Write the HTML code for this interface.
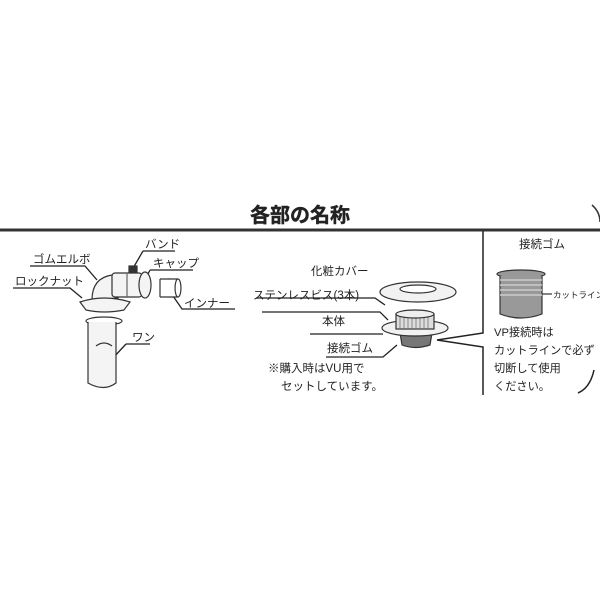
<!DOCTYPE html>
<html><head><meta charset="utf-8"><style>
body{margin:0;background:#fff;}
svg text{font-family:"Liberation Sans","Noto Sans CJK JP",sans-serif;fill:#222;}
</style></head><body>
<svg width="600" height="600" viewBox="0 0 600 600" xmlns="http://www.w3.org/2000/svg">
<text x="300" y="222" font-size="20" font-weight="bold" text-anchor="middle" stroke="#222" stroke-width="0.4">各部の名称</text>
<line x1="0" y1="230" x2="600" y2="230" stroke="#333" stroke-width="3"/>
<path d="M592 205 Q600 212 600 222" fill="none" stroke="#333" stroke-width="1.5"/>
<g stroke="#222" stroke-width="1.5" fill="none">
<path d="M483 231 V333 L437 340 L483 347 V395"/>
<path d="M578 393 Q590 388 594 370"/>
</g>
<g font-size="11.5">
<text x="33" y="263">ゴムエルボ</text>
<text x="15" y="285">ロックナット</text>
<text x="145" y="248">バンド</text>
<text x="153" y="267">キャップ</text>
<text x="184" y="307">インナー</text>
<text x="132" y="341">ワン</text>
</g>
<g stroke="#222" stroke-width="1.3" fill="none">
<path d="M30 266 H85 L97 280"/>
<path d="M13 288 H70 L82 298"/>
<path d="M143 251 H175 M143 251 L132 270"/>
<path d="M150 270 H193 M150 270 L145 280"/>
<path d="M173 296 L182 309 H235"/>
<path d="M126 344 H150 M126 344 L113 358"/>
<path d="M256 298 H375 L385 305"/>
<path d="M262 312 H380 L388 320"/>
<path d="M310 334 H383"/>
<path d="M326 357 H383 L397 345"/>
</g>
<g stroke="#333" stroke-width="1.2" fill="#f4f4f4">
<path d="M92 300 Q92 278 112 275 L118 275 L118 298 Z"/>
<rect x="112" y="273" width="30" height="24" rx="3"/>
<path d="M127 273 V297" stroke="#666"/>
<ellipse cx="145" cy="285" rx="6" ry="13"/>
<rect x="129" y="266" width="8" height="6" fill="#333"/>
<path d="M80 302 Q104 294 130 302 L124 310 Q104 314 86 310 Z"/>
<ellipse cx="169" cy="288" rx="9" ry="9" fill="#fff"/>
<rect x="160" y="279" width="18" height="18" fill="#fff" stroke="none"/>
<path d="M160 279 V297 M160 279 H178 M160 297 H178"/>
<ellipse cx="178" cy="288" rx="3" ry="9" fill="#fff"/>
<ellipse cx="104" cy="321" rx="18" ry="4" fill="#fff"/>
<path d="M88 322 V383 Q104 392 116 383 V322" fill="#f4f4f4"/>
<path d="M96 346 Q104 340 112 346" fill="none"/>
</g>
<g stroke="#333" stroke-width="1.2" fill="#f2f2f2">
<ellipse cx="418" cy="292" rx="38" ry="10"/>
<ellipse cx="418" cy="289" rx="18" ry="4" fill="#fff"/>
<path d="M400 333 H432 L430 345 Q415 350 402 345 Z" fill="#777"/>
<ellipse cx="415" cy="328" rx="33" ry="8"/>
<rect x="396" y="314" width="38" height="15" fill="#ddd"/>
<path d="M400 316 V328 M404 316 V328 M408 316 V328 M412 316 V328 M416 316 V328 M420 316 V328 M424 316 V328 M428 316 V328" stroke="#888" stroke-width="1"/>
<ellipse cx="415" cy="314" rx="19" ry="4" fill="#eee"/>
</g>
<g font-size="11.5">
<text x="311" y="275">化粧カバー</text>
<text x="253" y="299">ステンレスビス(3本)</text>
<text x="322" y="325">本体</text>
<text x="327" y="352">接続ゴム</text>
<text x="268" y="372">※購入時はVU用で</text>
<text x="281" y="390">セットしています。</text>
</g>
<text x="519" y="248" font-size="11.5">接続ゴム</text>
<g stroke="#333" stroke-width="1.2">
<ellipse cx="521" cy="274" rx="24" ry="4" fill="#999"/>
<path d="M500 276 V314 Q521 322 542 314 V276" fill="#999"/>
<path d="M500 280 H542 M500 285 H542 M500 290 H542 M500 295 H542" stroke="#ccc" stroke-width="1.5"/>
<line x1="542" y1="294" x2="552" y2="294"/>
</g>
<text x="553" y="298" font-size="8.5">カットライン</text>
<g font-size="11.2">
<text x="494" y="336">VP接続時は</text>
<text x="494" y="354">カットラインで必ず</text>
<text x="494" y="372">切断して使用</text>
<text x="494" y="390">ください。</text>
</g>
</svg>
</body></html>
